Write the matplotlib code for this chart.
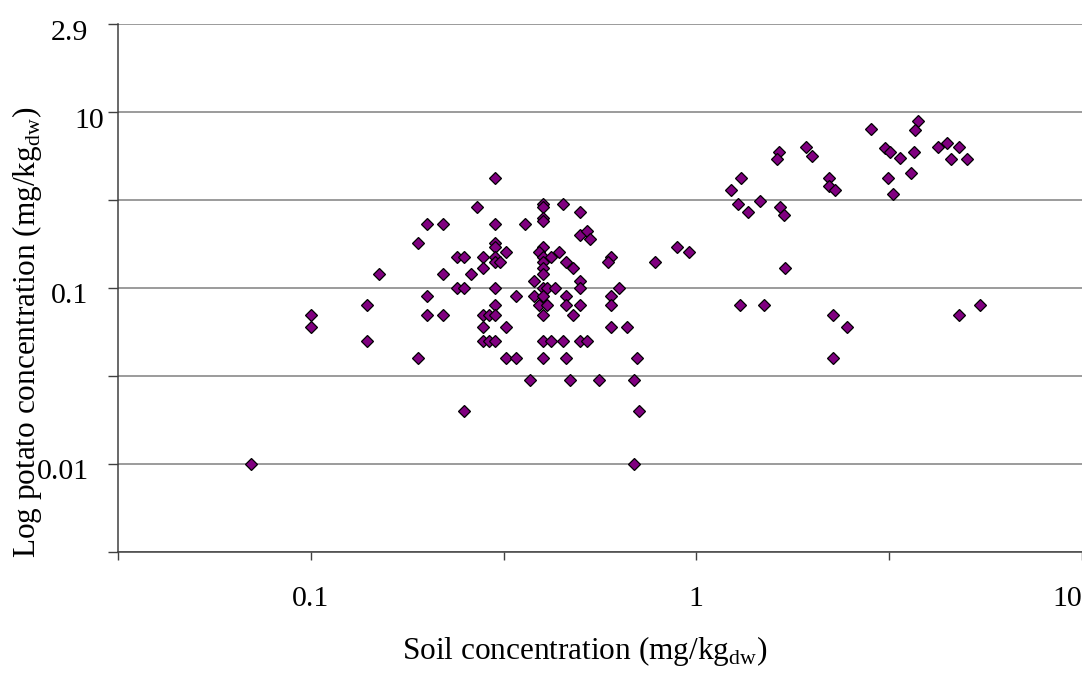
import matplotlib
matplotlib.use("Agg")
import matplotlib.pyplot as plt
import matplotlib.transforms as mtransforms
from matplotlib.ticker import FixedLocator, FixedFormatter, NullLocator

plt.rcParams['font.family'] = ['Liberation Serif', 'DejaVu Serif']
plt.rcParams['mathtext.fontset'] = 'custom'
plt.rcParams['mathtext.rm'] = 'Liberation Serif'

# soil concentration (x) and potato concentration (y)
soil = [0.07, 0.10, 0.10, 0.14, 0.14, 0.15, 0.19, 0.19, 0.20, 0.20,
        0.20, 0.22, 0.22, 0.22, 0.24, 0.25, 0.24, 0.25, 0.26, 0.25,
        0.27, 0.30, 0.30, 0.30, 0.30, 0.32, 0.28, 0.30, 0.30, 0.31,
        0.28, 0.30, 0.34, 0.30, 0.28, 0.29, 0.30, 0.28, 0.32, 0.28,
        0.29, 0.30, 0.32, 0.34, 0.37,
        0.40, 0.40, 0.45, 0.50, 0.36, 0.40, 0.40, 0.50, 0.52, 0.53,
        0.40, 0.39, 0.40, 0.42, 0.44, 0.40, 0.40, 0.40, 0.46, 0.48,
        0.38, 0.50, 0.50, 0.40, 0.41, 0.43, 0.38, 0.40, 0.46, 0.39,
        0.41, 0.46, 0.50, 0.40, 0.48, 0.40, 0.42, 0.45, 0.50, 0.52,
        0.40, 0.46, 0.47,
        0.60, 0.59, 0.78, 0.89, 0.96, 0.63, 0.60, 0.60, 0.60, 0.66,
        0.70, 0.56, 0.69, 0.71, 0.69,
        1.64, 1.62, 1.93, 2.00, 1.31, 1.23, 2.21, 2.21, 2.29, 1.28,
        1.36, 1.46, 1.65, 1.69, 1.70, 1.30, 1.50, 2.26, 2.46, 2.26,
        2.84, 3.77, 3.70, 3.08, 3.19, 3.38, 3.66, 4.23, 4.47, 4.80,
        4.59, 5.04, 3.15, 3.61, 3.24, 4.80, 5.46]
potato = [0.01, 0.07, 0.06, 0.08, 0.05, 0.12, 0.18, 0.04, 0.23, 0.09,
          0.07, 0.23, 0.12, 0.07, 0.15, 0.15, 0.10, 0.10, 0.12, 0.02,
          0.29, 0.42, 0.23, 0.18, 0.17, 0.16, 0.15, 0.15, 0.14, 0.14,
          0.13, 0.10, 0.09, 0.08, 0.07, 0.07, 0.07, 0.06, 0.06, 0.05,
          0.05, 0.05, 0.04, 0.04, 0.03,
          0.30, 0.29, 0.30, 0.27, 0.23, 0.25, 0.24, 0.20, 0.21, 0.19,
          0.17, 0.16, 0.15, 0.15, 0.16, 0.14, 0.13, 0.12, 0.14, 0.13,
          0.11, 0.11, 0.10, 0.10, 0.10, 0.10, 0.09, 0.09, 0.09, 0.08,
          0.08, 0.08, 0.08, 0.07, 0.07, 0.05, 0.05, 0.05, 0.05, 0.05,
          0.04, 0.04, 0.03,
          0.15, 0.14, 0.14, 0.17, 0.16, 0.10, 0.09, 0.08, 0.06, 0.06,
          0.04, 0.03, 0.03, 0.02, 0.01,
          0.59, 0.54, 0.63, 0.56, 0.42, 0.36, 0.42, 0.38, 0.36, 0.30,
          0.27, 0.31, 0.29, 0.26, 0.13, 0.08, 0.08, 0.07, 0.06, 0.04,
          0.80, 0.89, 0.79, 0.62, 0.59, 0.55, 0.59, 0.63, 0.67, 0.63,
          0.54, 0.54, 0.42, 0.45, 0.34, 0.07, 0.08]

x_ticks = [10 ** -1.5, 0.1, 10 ** -0.5, 1, 10 ** 0.5, 10]
x_labels = ['', '0.1', '', '1', '', '10']
y_ticks = [10 ** -2.5, 0.01, 10 ** -1.5, 0.1, 10 ** -0.5, 1, 10 ** 0.5]
y_labels = ['', '0.01', '', '0.1', '', '10', '2.9']

fig = plt.figure(figsize=(10.82, 6.73), dpi=100)
ax = fig.add_axes([0.1091, 0.1802, 0.8907, 0.7841])

ax.set_xscale('log')
ax.set_yscale('log')
ax.set_xlim(10 ** -1.5, 10)
ax.set_ylim(10 ** -2.5, 10 ** 0.5)

ax.plot(soil, potato, linestyle='none', marker='D', markersize=6,
        markerfacecolor='#800080', markeredgecolor='black',
        markeredgewidth=0.9, zorder=3, clip_on=False)

ax.xaxis.set_major_locator(FixedLocator(x_ticks))
ax.xaxis.set_major_formatter(FixedFormatter(x_labels))
ax.xaxis.set_minor_locator(NullLocator())
ax.yaxis.set_major_locator(FixedLocator(y_ticks))
ax.yaxis.set_major_formatter(FixedFormatter(y_labels))
ax.yaxis.set_minor_locator(NullLocator())

ax.grid(True, axis='y', color='#808080', linewidth=1.1)
ax.set_axisbelow(True)

ax.spines['right'].set_visible(False)
ax.spines['top'].set_visible(False)
for s in ['left', 'bottom']:
    ax.spines[s].set_color('#404040')
    ax.spines[s].set_linewidth(1.1)

ax.tick_params(axis='x', direction='out', length=6, width=1, color='#404040',
               labelsize=21.5, pad=19)
ax.tick_params(axis='y', direction='out', length=7.2, width=1, color='#404040',
               labelsize=21.5, pad=14)

ax.set_xlabel('Soil concentration (mg/kg$_\\mathregular{dw}$)', fontsize=22.5)
ax.xaxis.set_label_coords(0.484, -0.155)
ax.set_ylabel('Log potato concentration (mg/kg$_\\mathregular{dw}$)', fontsize=22.5)
ax.yaxis.set_label_coords(-0.077, 0.415)

# Excel-style label nudges: labels sit a little below their gridlines,
# the "10" on the y axis sticks out to the right, the last x label is right aligned
fig.canvas.draw()
down = mtransforms.ScaledTranslation(0, -4 / 72, fig.dpi_scale_trans)
for lab in ax.get_yticklabels():
    lab.set_transform(lab.get_transform() + down)
ytl = ax.get_yticklabels()
ytl[5].set_transform(ytl[5].get_transform() +
                     mtransforms.ScaledTranslation(11 / 72, 0, fig.dpi_scale_trans))
ax.get_xticklabels()[-1].set_horizontalalignment('right')

fig.savefig('out.png', dpi=100)
